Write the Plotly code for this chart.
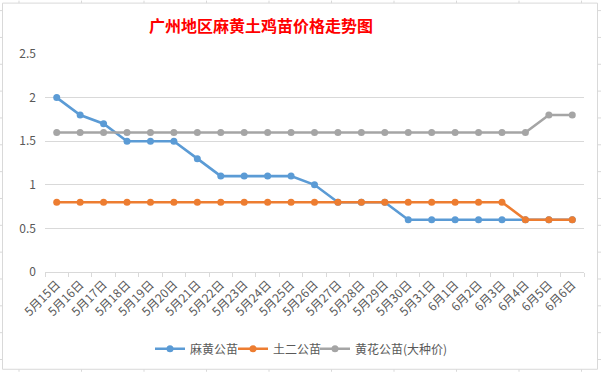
import plotly.graph_objects as go

categories = ["5月15日", "5月16日", "5月17日", "5月18日", "5月19日", "5月20日", "5月21日",
              "5月22日", "5月23日", "5月24日", "5月25日", "5月26日", "5月27日", "5月28日",
              "5月29日", "5月30日", "5月31日", "6月1日", "6月2日", "6月3日", "6月4日",
              "6月5日", "6月6日"]
mahuang = [2, 1.8, 1.7, 1.5, 1.5, 1.5, 1.3, 1.1, 1.1, 1.1, 1.1, 1.0, 0.8, 0.8, 0.8,
           0.6, 0.6, 0.6, 0.6, 0.6, 0.6, 0.6, 0.6]
tuer = [0.8] * 20 + [0.6, 0.6, 0.6]
huanghua = [1.6] * 21 + [1.8, 1.8]

series = [("麻黄公苗", mahuang, "#5B9BD5"),
          ("土二公苗", tuer, "#ED7D31"),
          ("黄花公苗(大种价)", huanghua, "#A5A5A5")]

W, H = 601, 372
L, R, T, B = 45, 584, 53.5, 272
FONT = "Noto Sans CJK SC"

def px(x):
    return (x - L) / (R - L)

def py(y):
    return (B - y) / (B - T)

legend_ids = ["legend", "legend2", "legend3"]
legend_left = [150, 233, 315]

fig = go.Figure()
for (name, vals, col), lid in zip(series, legend_ids):
    fig.add_trace(go.Scatter(x=categories, y=vals, name=name, mode="lines+markers",
                             line=dict(color=col, width=2.6),
                             marker=dict(color=col, size=7), legend=lid))

shapes = []
grid = "#d9d9d9"
# chart border
shapes.append(dict(type="rect", xref="paper", yref="paper",
                   x0=px(2.5), x1=px(597.5), y0=py(369.5), y1=py(2.5),
                   line=dict(color=grid, width=1)))
# spreadsheet gridline stubs
for k in range(14):
    yy = 10 + 26.9 * k
    if 2.5 < yy < 369.5:
        shapes.append(dict(type="line", xref="paper", yref="paper",
                           x0=px(0), x1=px(2.5), y0=py(yy), y1=py(yy),
                           line=dict(color=grid, width=1)))
        shapes.append(dict(type="line", xref="paper", yref="paper",
                           x0=px(597.5), x1=px(601), y0=py(yy), y1=py(yy),
                           line=dict(color=grid, width=1)))
for k in range(10):
    xx = 19 + 62.5 * k
    shapes.append(dict(type="line", xref="paper", yref="paper",
                       x0=px(xx), x1=px(xx), y0=py(0), y1=py(2.5),
                       line=dict(color=grid, width=1)))
    shapes.append(dict(type="line", xref="paper", yref="paper",
                       x0=px(xx), x1=px(xx), y0=py(369.5), y1=py(372),
                       line=dict(color=grid, width=1)))

legend_common = dict(orientation="h", yanchor="middle", xanchor="left",
                     font=dict(size=12, color="#595959"), itemwidth=30,
                     bgcolor="rgba(0,0,0,0)")
layout_legends = {}
for lid, lx in zip(legend_ids, legend_left):
    layout_legends[lid] = dict(legend_common, x=px(lx), y=py(349))

fig.update_layout(
    width=W, height=H,
    margin=dict(l=L, r=W - R, t=T, b=H - B, autoexpand=False),
    paper_bgcolor="white", plot_bgcolor="white",
    font=dict(family=FONT, color="#595959", size=11),
    showlegend=True,
    shapes=shapes,
    annotations=[dict(text="<b>广州地区麻黄土鸡苗价格走势图</b>", xref="paper", yref="paper",
                      x=px(261), y=py(24), xanchor="center", yanchor="middle",
                      showarrow=False, font=dict(size=16, color="#FF0000", family=FONT))],
    **layout_legends,
)
fig.update_xaxes(type="category", showgrid=False, showline=True, linecolor=grid,
                 ticks="outside", ticklen=4, tickcolor=grid, tickson="boundaries",
                 tickangle=-45, tickfont=dict(size=12, color="#595959"), automargin=False,
                 range=[-0.5, len(categories) - 0.5])
fig.update_yaxes(range=[0, 2.5], dtick=0.5, showgrid=True, gridcolor=grid,
                 zeroline=False, showline=False, ticks="", ticklabelstandoff=8,
                 automargin=False, tickfont=dict(size=12, color="#595959"))

fig.write_html("out.html", config={"displayModeBar": False},
               post_script="document.body.style.margin='0';")
